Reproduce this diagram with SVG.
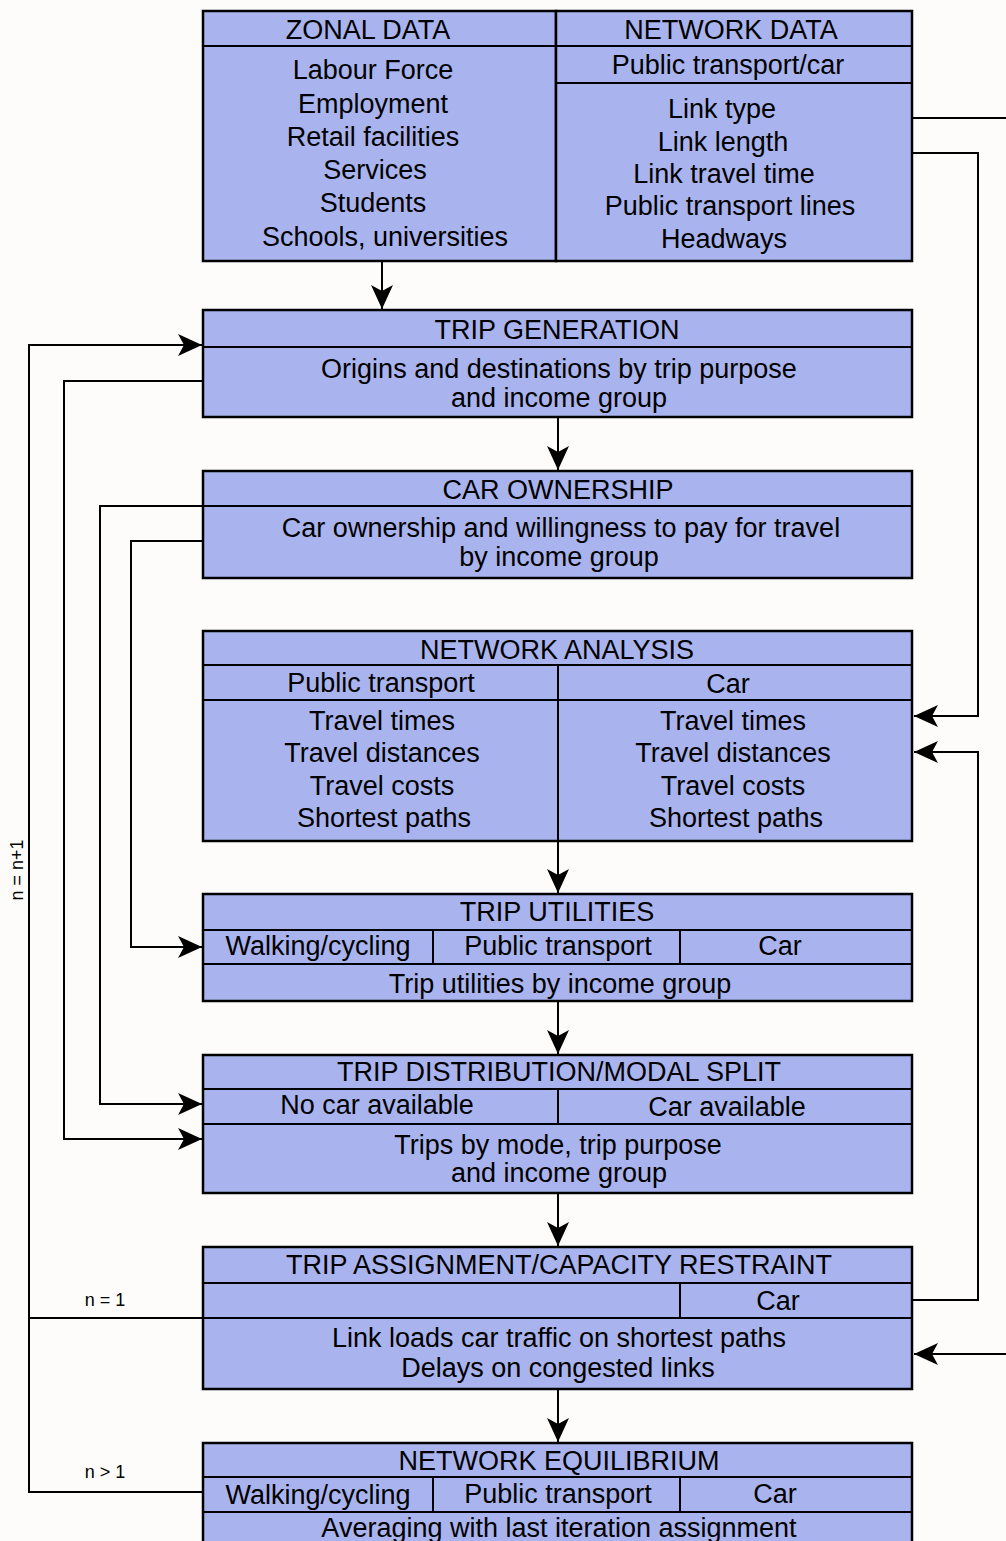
<svg xmlns="http://www.w3.org/2000/svg" width="1006" height="1541" viewBox="0 0 1006 1541">
<defs>
<style>
.box{fill:#a9b4ef;stroke:#000;stroke-width:2.5}
.div{stroke:#000;stroke-width:2;fill:none}
.con{stroke:#000;stroke-width:2;fill:none}
.t{font-family:"Liberation Sans",Arial,sans-serif;font-size:27px;fill:#000;text-anchor:middle}
.s{font-family:"Liberation Sans",Arial,sans-serif;font-size:18px;fill:#000;text-anchor:middle}
</style>
<marker id="ah" markerUnits="userSpaceOnUse" viewBox="0 0 24 22" refX="24" refY="11" markerWidth="24" markerHeight="22" orient="auto">
<path d="M0,0 L24,11 L0,22 L6,11 Z" fill="#000"/>
</marker>
</defs>
<rect x="0" y="0" width="1006" height="1541" fill="#fdfcfa"/>

<g id="connectors">
<path class="con" d="M382,261 V309" marker-end="url(#ah)"/>
<path class="con" d="M558,417 V470" marker-end="url(#ah)"/>
<path class="con" d="M558,841 V893" marker-end="url(#ah)"/>
<path class="con" d="M558,1001 V1054" marker-end="url(#ah)"/>
<path class="con" d="M558,1193 V1246" marker-end="url(#ah)"/>
<path class="con" d="M558,1389 V1442" marker-end="url(#ah)"/>
<path class="con" d="M912,118 H1006"/>
<path class="con" d="M910,153 H978 V716 H914" marker-end="url(#ah)"/>
<path class="con" d="M913,1300 H978 V752 H914" marker-end="url(#ah)"/>
<path class="con" d="M1006,1354 H914" marker-end="url(#ah)"/>
<path class="con" d="M203,1318 H29 V345 H202" marker-end="url(#ah)"/>
<path class="con" d="M203,1492 H29 V1318"/>
<path class="con" d="M203,381 H64 V1139 H202" marker-end="url(#ah)"/>
<path class="con" d="M203,506 H100 V1104 H202" marker-end="url(#ah)"/>
<path class="con" d="M203,541 H131 V947 H202" marker-end="url(#ah)"/>
<text class="s" x="105" y="1306">n = 1</text>
<text class="s" x="105" y="1478">n &gt; 1</text>
<text class="s" transform="translate(23,870) rotate(-90)">n = n+1</text>
</g>

<g id="zonal-data">
<rect class="box" x="203" y="11" width="353" height="250"/>
<line class="div" x1="203" y1="46" x2="556" y2="46"/>
<text class="t" x="368" y="39">ZONAL DATA</text>
<text class="t" x="373" y="79">Labour Force</text>
<text class="t" x="373" y="113">Employment</text>
<text class="t" x="373" y="146">Retail facilities</text>
<text class="t" x="375" y="179">Services</text>
<text class="t" x="373" y="212">Students</text>
<text class="t" x="385" y="246">Schools, universities</text>
</g>

<g id="network-data">
<rect class="box" x="556" y="11" width="356" height="250"/>
<line class="div" x1="556" y1="46" x2="912" y2="46"/>
<line class="div" x1="556" y1="83" x2="912" y2="83"/>
<text class="t" x="731" y="39">NETWORK DATA</text>
<text class="t" x="728" y="74">Public transport/car</text>
<text class="t" x="722" y="118">Link type</text>
<text class="t" x="723" y="151">Link length</text>
<text class="t" x="724" y="183">Link travel time</text>
<text class="t" x="730" y="215">Public transport lines</text>
<text class="t" x="724" y="248">Headways</text>
</g>

<g id="trip-generation">
<rect class="box" x="203" y="310" width="709" height="107"/>
<line class="div" x1="203" y1="347" x2="912" y2="347"/>
<text class="t" x="557" y="339">TRIP GENERATION</text>
<text class="t" x="559" y="378">Origins and destinations by trip purpose</text>
<text class="t" x="559" y="407">and income group</text>
</g>

<g id="car-ownership">
<rect class="box" x="203" y="471" width="709" height="107"/>
<line class="div" x1="203" y1="506" x2="912" y2="506"/>
<text class="t" x="558" y="499">CAR OWNERSHIP</text>
<text class="t" x="561" y="537">Car ownership and willingness to pay for travel</text>
<text class="t" x="559" y="566">by income group</text>
</g>

<g id="network-analysis">
<rect class="box" x="203" y="631" width="709" height="210"/>
<line class="div" x1="203" y1="665" x2="912" y2="665"/>
<line class="div" x1="203" y1="700" x2="912" y2="700"/>
<line class="div" x1="558" y1="665" x2="558" y2="841"/>
<text class="t" x="557" y="659">NETWORK ANALYSIS</text>
<text class="t" x="381" y="692">Public transport</text>
<text class="t" x="728" y="693">Car</text>
<text class="t" x="382" y="730">Travel times</text>
<text class="t" x="382" y="762">Travel distances</text>
<text class="t" x="382" y="795">Travel costs</text>
<text class="t" x="384" y="827">Shortest paths</text>
<text class="t" x="733" y="730">Travel times</text>
<text class="t" x="733" y="762">Travel distances</text>
<text class="t" x="733" y="795">Travel costs</text>
<text class="t" x="736" y="827">Shortest paths</text>
</g>

<g id="trip-utilities">
<rect class="box" x="203" y="894" width="709" height="107"/>
<line class="div" x1="203" y1="930" x2="912" y2="930"/>
<line class="div" x1="203" y1="964" x2="912" y2="964"/>
<line class="div" x1="433" y1="930" x2="433" y2="964"/>
<line class="div" x1="680" y1="930" x2="680" y2="964"/>
<text class="t" x="557" y="921">TRIP UTILITIES</text>
<text class="t" x="318" y="955">Walking/cycling</text>
<text class="t" x="558" y="955">Public transport</text>
<text class="t" x="780" y="955">Car</text>
<text class="t" x="560" y="993">Trip utilities by income group</text>
</g>

<g id="trip-distribution">
<rect class="box" x="203" y="1055" width="709" height="138"/>
<line class="div" x1="203" y1="1089" x2="912" y2="1089"/>
<line class="div" x1="203" y1="1124" x2="912" y2="1124"/>
<line class="div" x1="558" y1="1089" x2="558" y2="1124"/>
<text class="t" x="559" y="1081">TRIP DISTRIBUTION/MODAL SPLIT</text>
<text class="t" x="377" y="1114">No car available</text>
<text class="t" x="727" y="1116">Car available</text>
<text class="t" x="558" y="1154">Trips by mode, trip purpose</text>
<text class="t" x="559" y="1182">and income group</text>
</g>

<g id="trip-assignment">
<rect class="box" x="203" y="1247" width="709" height="142"/>
<line class="div" x1="203" y1="1283" x2="912" y2="1283"/>
<line class="div" x1="203" y1="1318" x2="912" y2="1318"/>
<line class="div" x1="680" y1="1283" x2="680" y2="1318"/>
<text class="t" x="559" y="1274">TRIP ASSIGNMENT/CAPACITY RESTRAINT</text>
<text class="t" x="778" y="1310">Car</text>
<text class="t" x="559" y="1347">Link loads car traffic on shortest paths</text>
<text class="t" x="558" y="1377">Delays on congested links</text>
</g>

<g id="network-equilibrium">
<rect class="box" x="203" y="1443" width="709" height="110"/>
<line class="div" x1="203" y1="1477" x2="912" y2="1477"/>
<line class="div" x1="203" y1="1512" x2="912" y2="1512"/>
<line class="div" x1="433" y1="1477" x2="433" y2="1512"/>
<line class="div" x1="680" y1="1477" x2="680" y2="1512"/>
<text class="t" x="559" y="1470">NETWORK EQUILIBRIUM</text>
<text class="t" x="318" y="1504">Walking/cycling</text>
<text class="t" x="558" y="1503">Public transport</text>
<text class="t" x="775" y="1503">Car</text>
<text class="t" x="559" y="1537">Averaging with last iteration assignment</text>
</g>
</svg>
